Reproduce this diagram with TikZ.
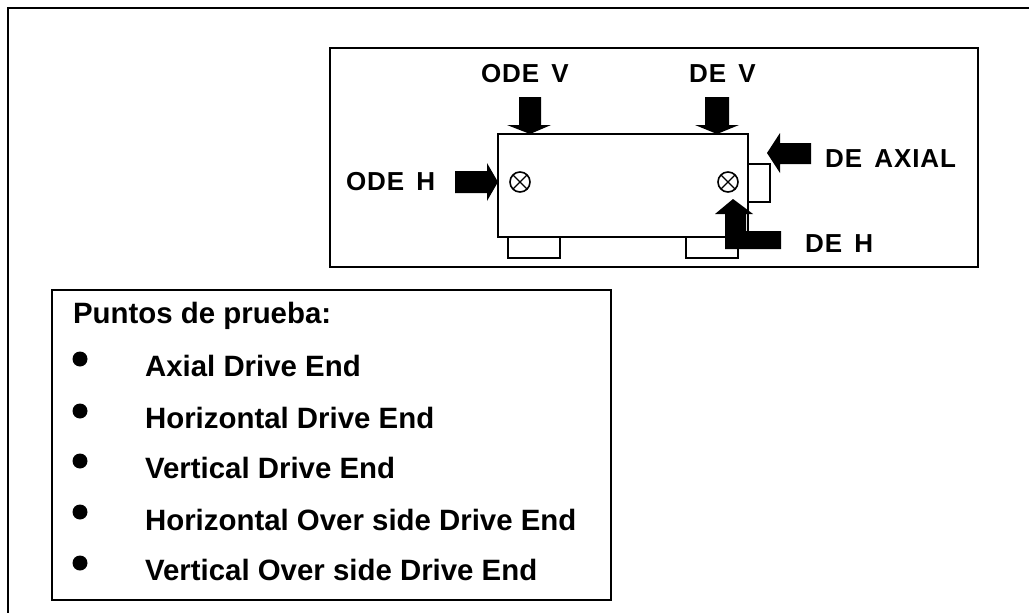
\documentclass[tikz,border=0pt]{standalone}
\usepackage{fontspec}
\setmainfont{Liberation Sans}
\newfontfamily\tagfont[LetterSpace=3.5,WordSpace=1.5]{Liberation Sans}
\usetikzlibrary{positioning}
\tikzset{
	every node/.style={
		align=center,
		inner sep=0pt,
	},
	tag/.style={anchor=base west, font=\tagfont\bfseries\fontsize{26}{30}\selectfont},
	entry/.style={anchor=base west, font=\bfseries\fontsize{29.4}{34}\selectfont},
	bullet/.style={circle, fill=black, minimum size=15pt},
	probe/.style={circle, draw, line width=1.6pt, minimum size=20pt,
		path picture={
			\draw[line width=1.2pt] (path picture bounding box.north west) -- (path picture bounding box.south east);
			\draw[line width=1.2pt] (path picture bounding box.north east) -- (path picture bounding box.south west);
		}},
}
\begin{document}
\begin{tikzpicture}[x=1pt, y=-1pt, line width=2.2pt]
		\useasboundingbox (0,0) rectangle (1029,613);
		
		\draw[line width=2pt] (8,613) -- (8,8) -- (1029,8); % the outer frame
		\draw (330,48) rectangle (978,267);
		\draw (52,290) rectangle (611,600);
		
		% the machine
		\draw (508,237) rectangle (560,258);
		\draw (686,237) rectangle (738,258);
		\draw (748,164) rectangle (770,202);
		\draw (498,134) rectangle (748,237);
		
		\node[probe] (ode) at (520,182) {};
		\node[probe] (de) at (728,182) {};
		
		% block arrows
		\fill (519,97) -- (541,97) -- (541,125) -- (551,125) -- (530,134) -- (507,125) -- (519,125) -- cycle;
		\fill (705,97) -- (729,97) -- (729,125) -- (739,125) -- (717,134) -- (695,125) -- (705,125) -- cycle;
		\fill (455,171) -- (487,171) -- (487,163) -- (498,182) -- (487,201) -- (487,193) -- (455,193) -- cycle;
		\fill (811,143) -- (780,143) -- (780,133) -- (767,153) -- (780,173) -- (780,164) -- (811,164) -- cycle;
		\fill (781,231) -- (746,231) -- (746,214) -- (753,214) -- (733,199) -- (715,214) -- (725,214) -- (725,249) -- (781,249) -- cycle;
		
		\node[tag] (odev) at (480,82) {ODE V};
		\node[tag] (dev) at (688,82) {DE V};
		\node[tag] (odeh) at (345,190) {ODE H};
		\node[tag] (deaxial) at (824,167) {DE AXIAL};
		\node[tag] (deh) at (804,252) {DE H};
		
		\node[entry] (title) at (72,323) {Puntos de prueba:};
		\node[entry] (item1) at (144,376) {Axial Drive End};
		\node[entry] (item2) at (144,428) {Horizontal Drive End};
		\node[entry] (item3) at (144,478) {Vertical Drive End};
		\node[entry] (item4) at (144,530) {Horizontal Over side Drive End};
		\node[entry] (item5) at (144,580) {Vertical Over side Drive End};
		
		\foreach \ypos/\name in {359/b1, 411/b2, 461/b3, 512/b4, 563/b5}
			\node[bullet] (\name) at (80,\ypos) {};
		
	\end{tikzpicture}
\end{document}
